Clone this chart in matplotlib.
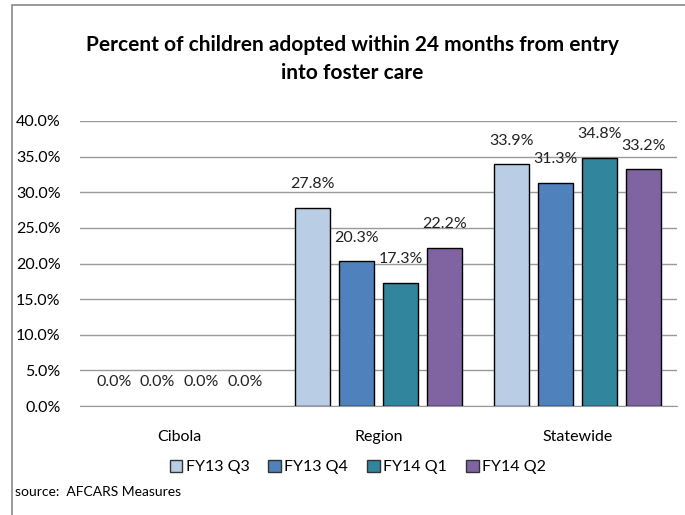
import numpy as np
import matplotlib.pyplot as plt
from matplotlib.patches import Rectangle

# data
groups = ["Cibola", "Region", "Statewide"]
quarters = ["FY13 Q3", "FY13 Q4", "FY14 Q1", "FY14 Q2"]
fy13_q3 = [0.0, 27.8, 33.9]
fy13_q4 = [0.0, 20.3, 31.3]
fy14_q1 = [0.0, 17.3, 34.8]
fy14_q2 = [0.0, 22.2, 33.2]
colors = ["#B9CDE5", "#4F81BD", "#31859C", "#8064A2"]

plt.rcParams['font.family'] = ['Lato', 'DejaVu Sans']

fig = plt.figure(figsize=(6.85, 5.15), dpi=100)
ax = fig.add_axes([80 / 685, 1 - 406 / 515, 597 / 685, 285 / 515])

x = np.arange(len(groups))
w = 0.176
pitch = 0.22
for i, (vals, q) in enumerate(zip([fy13_q3, fy13_q4, fy14_q1, fy14_q2], quarters)):
    pos = x + (i - 1.5) * pitch
    lw = [1 if v > 0 else 0 for v in vals]
    ax.bar(pos, vals, w, color=colors[i], edgecolor="black", linewidth=lw, label=q, zorder=3)
    for xp, v in zip(pos, vals):
        ax.annotate(f"{v:.1f}%", (xp, v), xytext=(0, 12), textcoords="offset points",
                    ha="center", va="bottom", fontsize=11.5, color="#222222", zorder=4)

ax.set_xlim(-0.5, 2.5)
ax.set_ylim(0, 40)
ax.set_yticks(np.arange(0, 41, 5))
ax.set_yticklabels([f"{t:.1f}%" for t in np.arange(0, 41, 5)], fontsize=11.5)
ax.set_xticks(x)
ax.set_xticklabels(groups, fontsize=11.5)
ax.tick_params(axis="x", length=0, pad=17)
ax.tick_params(axis="y", length=0, pad=14)
ax.grid(axis="y", color="#999999", linewidth=1, zorder=0)
for s in ["top", "right", "left"]:
    ax.spines[s].set_visible(False)
ax.spines["bottom"].set_color("#999999")

fig.text(352 / 685, 1 - 45 / 515, "Percent of children adopted within 24 months from entry",
         ha="center", va="center", fontsize=15, fontweight="bold")
fig.text(352 / 685, 1 - 73 / 515, "into foster care",
         ha="center", va="center", fontsize=15, fontweight="bold")

leg = fig.legend(loc="center", bbox_to_anchor=(358 / 685, 1 - 467 / 515), ncol=4, frameon=False,
                 fontsize=11.5, handlelength=0.8, handleheight=0.8, handletextpad=0.2, columnspacing=1.2)
for h in leg.legend_handles:
    h.set_edgecolor("#333333")
    h.set_linewidth(1)
fig.text(15 / 685, 1 - 492 / 515, "source:  AFCARS Measures", ha="left", va="center", fontsize=10)

fig.patches.append(Rectangle((12 / 685, -0.1), 1.0, 1 - 5 / 515 + 0.1, transform=fig.transFigure,
                             fill=False, edgecolor="#888888", linewidth=1.2))

fig.savefig("out.png", dpi=100)
